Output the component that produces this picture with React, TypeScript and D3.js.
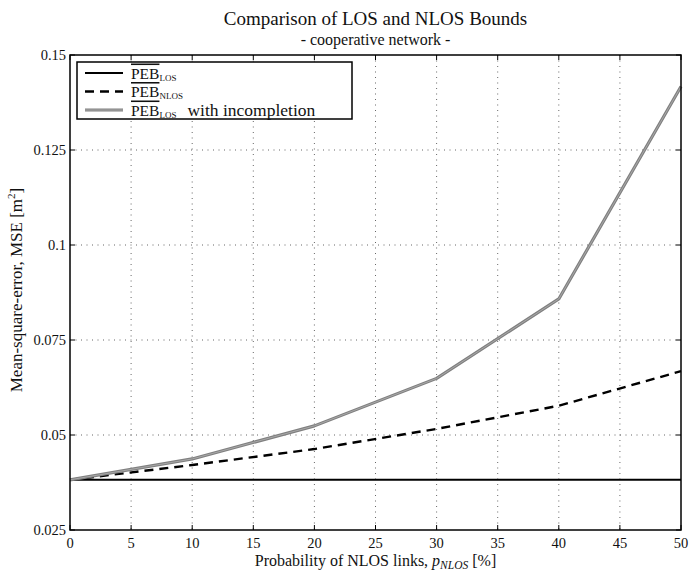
import React from "react";
import * as d3 from "d3";

// NLOS link probability in percent
const pNlos = [0, 10, 20, 30, 40, 50];
// Position error bound, LOS only (constant)
const pebLos = [0.0382, 0.0382, 0.0382, 0.0382, 0.0382, 0.0382];
// Position error bound with NLOS links
const pebNlos = [0.0382, 0.0421, 0.0463, 0.0516, 0.0577, 0.0668];
// LOS bound with incomplete information
const pebIncomplete = [0.0382, 0.0437, 0.0524, 0.0649, 0.0858, 0.1417];

const xTicks = [0, 5, 10, 15, 20, 25, 30, 35, 40, 45, 50];
const yTicks = [0.025, 0.05, 0.075, 0.1, 0.125, 0.15];
const yTickLabels = ["0.025", "0.05", "0.075", "0.1", "0.125", "0.15"];

const W = 689;
const H = 576;
const M = { left: 70, right: 681, top: 55, bottom: 530 };
const FONT = "'Liberation Serif', 'DejaVu Serif', serif";

export default function App() {
  const x = d3.scaleLinear().domain([0, 50]).range([M.left, M.right]);
  const y = d3.scaleLinear().domain([0.025, 0.15]).range([M.bottom, M.top]);

  const line = d3
    .line<number>()
    .x((_, i) => x(pNlos[i]))
    .y((d) => y(d));

  const tick = 5;

  const legendRows = [
    { sub: "LOS", extra: "", kind: "los" },
    { sub: "NLOS", extra: "", kind: "nlos" },
    { sub: "LOS", extra: "with incompletion", kind: "inc" },
  ];

  return (
    <svg
      width={W}
      height={H}
      style={{ position: "absolute", left: 0, top: 0, background: "#fff" }}
      fontFamily={FONT}
    >
      <rect x={0} y={0} width={W} height={H} fill="#fff" />
      {/* title */}
      <text x={375.5} y={25} textAnchor="middle" fontSize={19} fill="#111">
        Comparison of LOS and NLOS Bounds
      </text>
      <text x={375.5} y={45} textAnchor="middle" fontSize={16} fill="#111">
        - cooperative network -
      </text>

      {/* grid */}
      <g stroke="#000" strokeWidth={0.8} strokeDasharray="1,4.5" opacity={0.75}>
        {xTicks.slice(1, -1).map((t) => (
          <line key={"gx" + t} x1={x(t)} x2={x(t)} y1={M.top} y2={M.bottom} />
        ))}
        {yTicks.slice(1, -1).map((t) => (
          <line key={"gy" + t} x1={M.left} x2={M.right} y1={y(t)} y2={y(t)} />
        ))}
      </g>

      {/* ticks on all four sides */}
      <g stroke="#000" strokeWidth={1}>
        {xTicks.map((t) => (
          <g key={"tx" + t}>
            <line x1={x(t)} x2={x(t)} y1={M.bottom} y2={M.bottom - tick} />
            <line x1={x(t)} x2={x(t)} y1={M.top} y2={M.top + tick} />
          </g>
        ))}
        {yTicks.map((t) => (
          <g key={"ty" + t}>
            <line x1={M.left} x2={M.left + tick} y1={y(t)} y2={y(t)} />
            <line x1={M.right} x2={M.right - tick} y1={y(t)} y2={y(t)} />
          </g>
        ))}
      </g>

      {/* series */}
      <path d={line(pebLos) || ""} fill="none" stroke="#000" strokeWidth={2} />
      <path
        d={line(pebNlos) || ""}
        fill="none"
        stroke="#000"
        strokeWidth={2.4}
        strokeDasharray="9,6"
      />
      <path
        d={line(pebIncomplete) || ""}
        fill="none"
        stroke="#808080"
        strokeWidth={3.2}
        strokeLinejoin="round"
      />
      <path
        d={line(pebIncomplete) || ""}
        fill="none"
        stroke="#a8a8a8"
        strokeWidth={1}
        strokeLinejoin="round"
      />

      {/* axes box */}
      <rect
        x={M.left}
        y={M.top}
        width={M.right - M.left}
        height={M.bottom - M.top}
        fill="none"
        stroke="#000"
        strokeWidth={1.5}
      />

      {/* tick labels */}
      {xTicks.map((t) => (
        <text
          key={"lx" + t}
          x={x(t)}
          y={M.bottom + 18}
          textAnchor="middle"
          fontSize={14.5}
          fill="#111"
        >
          {t}
        </text>
      ))}
      {yTicks.map((t, i) => (
        <text
          key={"ly" + t}
          x={M.left - 4}
          y={y(t) + 5}
          textAnchor="end"
          fontSize={14.5}
          fill="#111"
        >
          {yTickLabels[i]}
        </text>
      ))}

      {/* axis titles */}
      <text x={375.5} y={566} textAnchor="middle" fontSize={16} fill="#111">
        Probability of NLOS links,{" "}
        <tspan fontStyle="italic">p</tspan>
        <tspan fontStyle="italic" fontSize={11.5} dy={3}>
          NLOS
        </tspan>
        <tspan dy={-3}> [%]</tspan>
      </text>
      <text
        transform={`translate(22, 290) rotate(-90)`}
        textAnchor="middle"
        fontSize={17}
        fill="#111"
      >
        Mean-square-error, MSE [m
        <tspan fontSize={11} dy={-7}>
          2
        </tspan>
        <tspan dy={7}>]</tspan>
      </text>

      {/* legend */}
      <g>
        <rect x={77} y={62} width={275} height={57} fill="#fff" stroke="#000" strokeWidth={1.5} />
        {legendRows.map((r, i) => {
          const ry = 73 + i * 18.5;
          return (
            <g key={"lg" + i}>
              {r.kind === "los" && (
                <line x1={85} x2={123} y1={ry} y2={ry} stroke="#000" strokeWidth={2} />
              )}
              {r.kind === "nlos" && (
                <line
                  x1={85}
                  x2={123}
                  y1={ry}
                  y2={ry}
                  stroke="#000"
                  strokeWidth={2.4}
                  strokeDasharray="9,6"
                />
              )}
              {r.kind === "inc" && (
                <g>
                  <line x1={85} x2={123} y1={ry} y2={ry} stroke="#808080" strokeWidth={3} />
                  <line x1={85} x2={123} y1={ry} y2={ry} stroke="#a8a8a8" strokeWidth={1} />
                </g>
              )}
              <text x={131} y={ry + 5.5} fontSize={15.5} fill="#111">
                <tspan style={{ textDecoration: "overline" }}>PEB</tspan>
                <tspan fontSize={9} dy={2}>
                  {r.sub}
                </tspan>
                {r.extra && (
                  <tspan dy={-2} dx={11} fontSize={17.5}>
                    {r.extra}
                  </tspan>
                )}
              </text>
            </g>
          );
        })}
      </g>
    </svg>
  );
}
